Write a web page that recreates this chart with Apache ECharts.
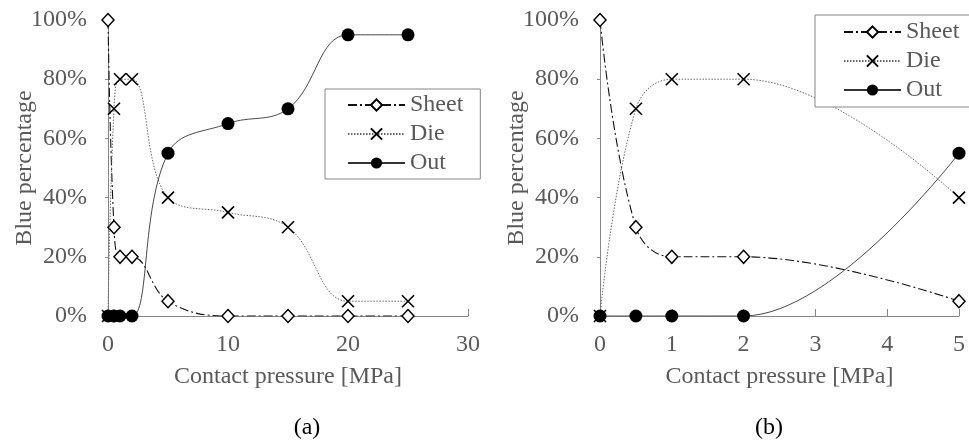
<!DOCTYPE html>
<html><head><meta charset="utf-8">
<script src="https://cdn.jsdelivr.net/npm/echarts@6/dist/echarts.min.js"></script>
<style>html,body{margin:0;padding:0;background:#fff}#c{width:969px;height:446px}</style>
</head><body><div id="c"></div>
<script>
const pressure = [0, 0.5, 1, 2, 5, 10, 15, 20, 25];
const sheet = [100, 30, 20, 20, 5, 0, 0, 0, 0];
const die   = [0, 70, 80, 80, 40, 35, 30, 5, 5];
const out   = [0, 0, 0, 0, 55, 65, 70, 95, 95];
const seriesNames = ['Sheet', 'Die', 'Out'];
const captions = ['(a)', '(b)'];
const xMaxA = 30, xMaxB = 5;

const FONT = 'Liberation Serif';
const FS = 24;
const TXT = '#595959';
const AX = '#868686';

function pairs(vals, xmax) {
  return pressure.map((x, i) => [x, vals[i]]).filter(p => p[0] <= xmax);
}
const xPath = 'path://M0,0L10,10M10,0L0,10';

function makeSeries(idx, xmax) {
  return [
    { name: seriesNames[0], type: 'line', xAxisIndex: idx, yAxisIndex: idx, data: pairs(sheet, xmax),
      smooth: 0.4, symbol: 'diamond', symbolSize: [12, 13],
      itemStyle: { color: '#fff', borderColor: '#000', borderWidth: 1.5 },
      lineStyle: { color: '#111', width: 1.1, type: [9, 3, 2, 3] }, z: 2 },
    { name: seriesNames[1], type: 'line', xAxisIndex: idx, yAxisIndex: idx, data: pairs(die, xmax),
      smooth: 0.4, symbol: xPath, symbolSize: 12,
      itemStyle: { color: 'none', borderColor: '#000', borderWidth: 1.6 },
      lineStyle: { color: '#666', width: 1, type: [1.5, 1.5] }, z: 3 },
    { name: seriesNames[2], type: 'line', xAxisIndex: idx, yAxisIndex: idx, data: pairs(out, xmax),
      smooth: 0.4, symbol: 'circle', symbolSize: 13,
      itemStyle: { color: '#000', borderColor: '#000', borderWidth: 0 },
      lineStyle: { color: '#333', width: 0.9 }, z: 4 }
  ];
}

function xAxis(idx, max, interval) {
  return { type: 'value', gridIndex: idx, min: 0, max: max, interval: interval,
    name: 'Contact pressure [MPa]', nameLocation: 'middle', nameGap: 49, nameMoveOverlap: false,
    nameTextStyle: { fontFamily: FONT, fontSize: FS, color: TXT },
    axisLine: { show: true, lineStyle: { color: AX, width: 1 } },
    axisTick: { show: true, inside: true, length: 7, lineStyle: { color: AX } },
    axisLabel: { fontFamily: FONT, fontSize: FS, color: TXT, margin: 17 },
    splitLine: { show: false } };
}
function yAxis(idx) {
  return { type: 'value', gridIndex: idx, min: 0, max: 100, interval: 20,
    name: 'Blue percentage', nameLocation: 'middle', nameGap: 71, nameRotate: 90, nameMoveOverlap: false,
    nameTextStyle: { fontFamily: FONT, fontSize: FS, color: TXT },
    axisLine: { show: true, lineStyle: { color: AX, width: 1 } },
    axisTick: { show: true, inside: false, length: 3, lineStyle: { color: AX } },
    axisLabel: { fontFamily: FONT, fontSize: FS, color: TXT, margin: 21, formatter: '{value}%' },
    splitLine: { show: false } };
}
function legend(left, top, padding) {
  return { data: seriesNames.map(n => ({ name: n })),
    orient: 'vertical', left: left, top: top, padding: padding,
    itemWidth: 57, itemHeight: 14, itemGap: 5,
    backgroundColor: '#fff', borderColor: AX, borderWidth: 1,
    textStyle: { fontFamily: FONT, fontSize: FS, color: TXT, lineHeight: 24 },
    selectedMode: false };
}

const chart = echarts.init(document.getElementById('c'), null, { renderer: 'canvas' });
chart.setOption({
  animation: false,
  backgroundColor: '#fff',
  grid: [
    { left: 108, top: 20, width: 360, height: 296 },
    { left: 600, top: 20, width: 359, height: 296 }
  ],
  xAxis: [xAxis(0, xMaxA, 10), xAxis(1, xMaxB, 1)],
  yAxis: [yAxis(0), yAxis(1)],
  legend: [
    legend(325, 89, [4, 17, 4, 22]),
    legend(815, 15, [5, 12, 5, 28])
  ],
  series: [...makeSeries(0, xMaxA), ...makeSeries(1, xMaxB)],
  graphic: [
    { type: 'text', x: 307, y: 428, style: { text: captions[0], font: '24px "Liberation Serif"', fill: '#000', align: 'center', verticalAlign: 'middle' } },
    { type: 'text', x: 769, y: 428, style: { text: captions[1], font: '24px "Liberation Serif"', fill: '#000', align: 'center', verticalAlign: 'middle' } }
  ]
});
</script></body></html>
